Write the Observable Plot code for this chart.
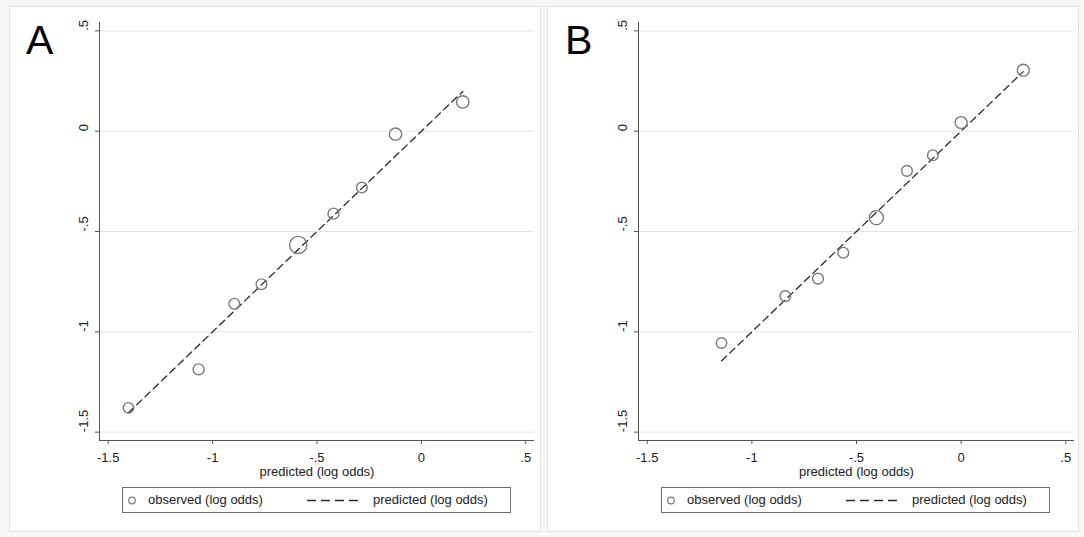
<!DOCTYPE html>
<html><head><meta charset="utf-8">
<script src="https://cdn.jsdelivr.net/npm/d3@7"></script>
<script src="https://cdn.jsdelivr.net/npm/@observablehq/plot@0.6"></script>
<style>
body{margin:0;background:#f7f7f7;font-family:"Liberation Sans",Arial,Helvetica,sans-serif;}
#root{position:relative;width:1084px;height:537px;overflow:hidden;}
.panel{position:absolute;top:6px;width:530px;height:524px;background:#fff;border:1px solid #e3e3e3;}
.chart{position:absolute;top:0;}
.letter{position:absolute;top:20px;font-size:41px;line-height:40px;color:#000;}
.legend{position:absolute;top:487px;width:387px;height:24px;border:1px solid #6e6e6e;background:#fff;font-size:13px;color:#222;line-height:24px;}
.legend span{position:absolute;top:0;white-space:nowrap;}
.legend svg{position:absolute;top:0;}
</style>
</head><body>
<div id="root"></div>
<script>
// ---- data ----
const xTicks = [-1.5, -1, -0.5, 0, 0.5];
const xTickLabels = ["-1.5", "-1", "-.5", "0", ".5"];
const yTicks = [-1.5, -1, -0.5, 0, 0.5];
const yTickLabels = ["-1.5", "-1", "-.5", "0", ".5"];
const xLabel = "predicted (log odds)";
const legendLabels = ["observed (log odds)", "predicted (log odds)"];
const panelLetters = ["A", "B"];

const predA = [-1.403, -1.067, -0.896, -0.766, -0.590, -0.421, -0.285, -0.124, 0.198];
const obsA  = [-1.379, -1.187, -0.860, -0.763, -0.567, -0.411, -0.281, -0.015, 0.146];
const nA    = [100, 110, 105, 105, 270, 110, 105, 140, 140];

const predB = [-1.145, -0.840, -0.684, -0.563, -0.405, -0.259, -0.135, 0.000, 0.297];
const obsB  = [-1.056, -0.822, -0.735, -0.606, -0.431, -0.198, -0.120, 0.043, 0.304];
const nB    = [100, 105, 105, 105, 180, 105, 105, 130, 130];

// ---- layout ----
const xDomain = [-1.5417, 0.5417];
const yDomain = [-1.5417, 0.5417];
const FONT = '"Liberation Sans", Arial, Helvetica, sans-serif';
const root = document.getElementById("root");

function makeChart(pred, obs, n, width, mL, mR) {
  const data = pred.map((p, i) => ({pred: p, obs: obs[i], n: n[i]}));
  const line = data.slice().sort((a, b) => a.pred - b.pred);
  return Plot.plot({
    width, height: 485,
    marginLeft: mL, marginRight: mR, marginTop: 22, marginBottom: 45,
    style: {fontFamily: FONT, fontSize: "13px", color: "#222", background: "transparent", overflow: "visible"},
    x: {domain: xDomain, axis: null},
    y: {domain: yDomain, axis: null},
    r: {type: "sqrt", domain: [0, 270], range: [0, 8.6]},
    marks: [
      Plot.gridY(yTicks, {stroke: "#e4e4e4", strokeOpacity: 1, strokeWidth: 1}),
      Plot.line(line, {x: "pred", y: "pred", stroke: "#2a2a2a", strokeWidth: 1.3, strokeDasharray: "7,4.5"}),
      Plot.dot(data, {x: "pred", y: "obs", r: "n", stroke: "#7a7a7a", strokeWidth: 1.4, fill: "none"}),
      Plot.ruleX([xDomain[0]], {stroke: "#555"}),
      Plot.ruleY([yDomain[0]], {stroke: "#555"}),
      Plot.axisY(yTicks, {tickSize: 4, tickFormat: () => "", label: null, stroke: "#555"}),
      Plot.text(yTicks, {y: d => d, text: d => yTickLabels[yTicks.indexOf(d)], frameAnchor: "left",
        rotate: -90, lineAnchor: "bottom", dx: -12, fill: "#222"}),
      Plot.axisX(xTicks, {tickSize: 4, tickPadding: 8, tickFormat: d => xTickLabels[xTicks.indexOf(d)],
        label: null, stroke: "#555", fill: "#222"}),
      Plot.text([xLabel], {frameAnchor: "bottom", dy: 31, lineAnchor: "middle", fill: "#222"})
    ]
  });
}

function legend(left) {
  const box = document.createElement("div");
  box.className = "legend";
  box.style.left = left + "px";
  box.innerHTML =
    `<svg width="18" height="24" style="left:0"><circle cx="9" cy="12.5" r="3.3" fill="none" stroke="#7a7a7a" stroke-width="1.2"/></svg>` +
    `<span style="left:25px">${legendLabels[0]}</span>` +
    `<svg width="56" height="24" style="left:183px"><line x1="1" x2="55" y1="12.5" y2="12.5" stroke="#2a2a2a" stroke-width="1.3" stroke-dasharray="9,5"/></svg>` +
    `<span style="left:250px">${legendLabels[1]}</span>`;
  return box;
}

function addPanel(letter, frameLeft, svgLeft, chart, legendLeft, letterLeft) {
  const p = document.createElement("div");
  p.className = "panel";
  p.style.left = frameLeft + "px";
  root.appendChild(p);
  const c = document.createElement("div");
  c.className = "chart";
  c.style.left = svgLeft + "px";
  c.appendChild(chart);
  root.appendChild(c);
  root.appendChild(legend(legendLeft));
  const l = document.createElement("div");
  l.className = "letter";
  l.style.left = letterLeft + "px";
  l.textContent = letter;
  root.appendChild(l);
}

addPanel(panelLetters[0], 9, 0, makeChart(predA, obsA, nA, 545, 99, 11), 122, 26);
addPanel(panelLetters[1], 547, 540, makeChart(predB, obsB, nB, 544, 98, 10), 661, 565);
</script>
</body></html>
